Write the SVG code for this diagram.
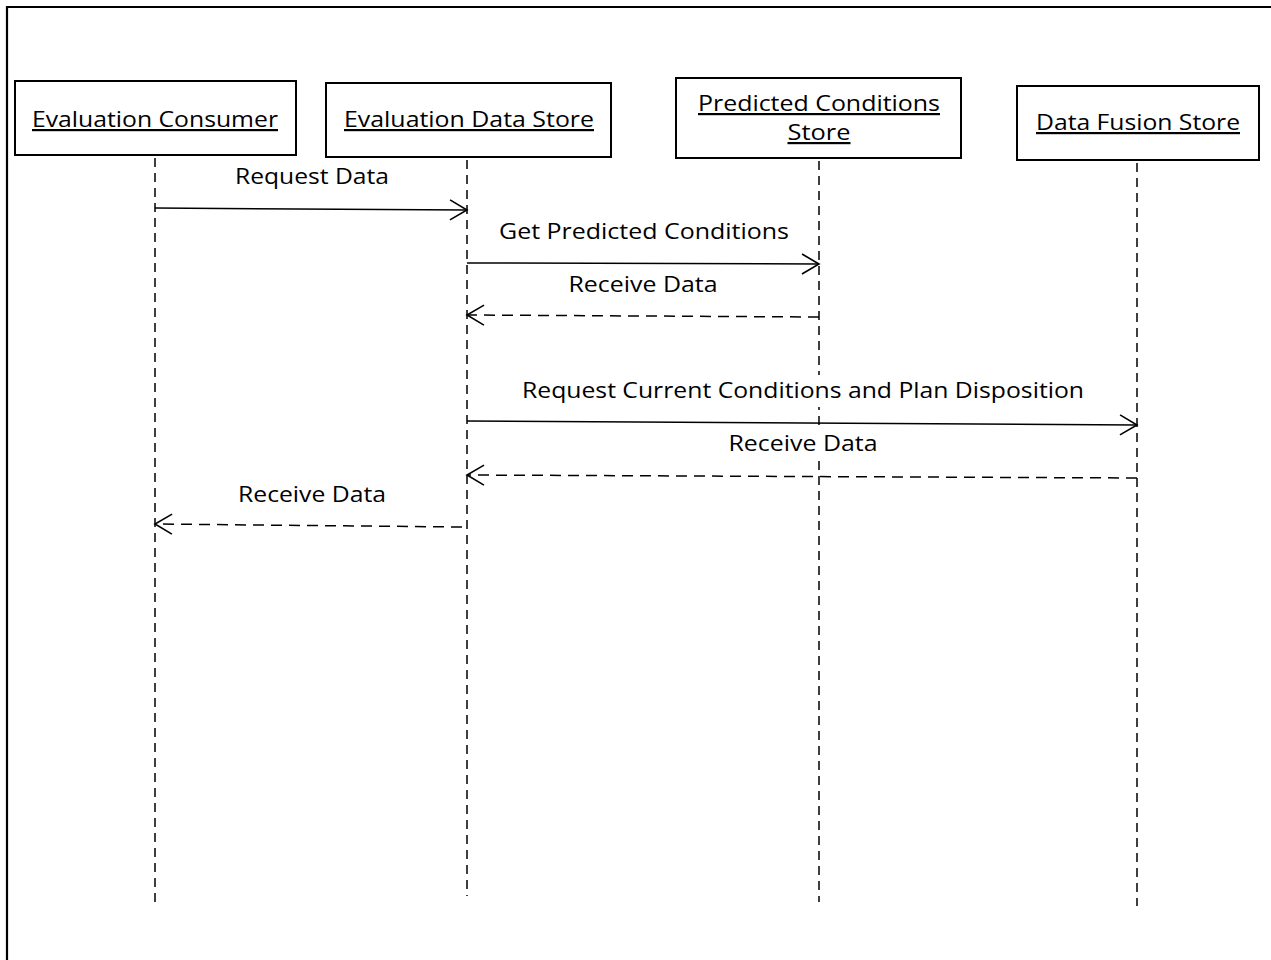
<svg xmlns="http://www.w3.org/2000/svg" width="1271" height="960" viewBox="0 0 1271 960">
  <style>
    .frame { fill: none; stroke: #000; stroke-width: 2.2; }
    .box { fill: #fff; stroke: #000; stroke-width: 2; }
    .life { fill: none; stroke: #000; stroke-width: 1.5; stroke-dasharray: 9 6; }
    .msg { fill: none; stroke: #000; stroke-width: 1.5; marker-end: url(#open); }
    .ret { stroke-dasharray: 11 7; }
    .bg { fill: #fff; stroke: none; }
    text { font-family: "Open Sans", "Liberation Sans", sans-serif; font-size: 22px; fill: #000; text-anchor: middle; }
    .title { text-decoration: underline; }
  </style>
  <defs>
    <marker id="open" markerUnits="userSpaceOnUse" markerWidth="30" markerHeight="30" viewBox="-20 -15 30 30" refX="0" refY="0" orient="auto" overflow="visible">
      <path d="M-17,-10 L0,0 L-17,10" fill="none" stroke="#000" stroke-width="1.6"/>
    </marker>
  </defs>

  <rect width="1271" height="960" fill="#fff"/>
  <!-- outer frame: top and left edges -->
  <path class="frame" d="M7,960 V7 H1271"/>

  <!-- lifelines -->
  <g id="lifelines">
    <line class="life" x1="155" y1="158" x2="155" y2="902"/>
    <line class="life" x1="467" y1="160" x2="467" y2="896"/>
    <line class="life" x1="819" y1="161" x2="819" y2="902"/>
    <line class="life" x1="1137" y1="163" x2="1137" y2="906"/>
  </g>

  <g id="evaluation-consumer">
    <rect class="box" x="15" y="81" width="281" height="74"/>
    <text class="title" x="155" y="127" textLength="246" lengthAdjust="spacingAndGlyphs">Evaluation Consumer</text>
  </g>
  <g id="evaluation-data-store">
    <rect class="box" x="326" y="83" width="285" height="74"/>
    <text class="title" x="469" y="127" textLength="250" lengthAdjust="spacingAndGlyphs">Evaluation Data Store</text>
  </g>
  <g id="predicted-conditions-store">
    <rect class="box" x="676" y="78" width="285" height="80"/>
    <text class="title" x="819" y="111" textLength="242" lengthAdjust="spacingAndGlyphs">Predicted Conditions</text>
    <text class="title" x="819" y="140" textLength="63" lengthAdjust="spacingAndGlyphs">Store</text>
  </g>
  <g id="data-fusion-store">
    <rect class="box" x="1017" y="86" width="242" height="74"/>
    <text class="title" x="1138" y="130" textLength="204" lengthAdjust="spacingAndGlyphs">Data Fusion Store</text>
  </g>

  <!-- messages -->
  <g id="connectors">
    <line class="msg" x1="155" y1="208" x2="467" y2="210"/>
    <line class="msg" x1="467" y1="263" x2="819" y2="264"/>
    <line class="msg ret" x1="819" y1="317" x2="467" y2="315"/>
    <line class="msg" x1="467" y1="421" x2="1137" y2="425"/>
    <line class="msg ret" x1="1137" y1="478" x2="467" y2="475"/>
    <line class="msg ret" x1="462" y1="527" x2="155" y2="524"/>
  </g>

  <!-- message labels sit on opaque backing so lifelines break behind them -->
  <g id="message-labels">
    <text x="312" y="184" textLength="154" lengthAdjust="spacingAndGlyphs">Request Data</text>
    <text x="644" y="239" textLength="290" lengthAdjust="spacingAndGlyphs">Get Predicted Conditions</text>
    <text x="643" y="292" textLength="149" lengthAdjust="spacingAndGlyphs">Receive Data</text>
    <rect class="bg" x="520" y="375" width="566" height="32"/>
    <text x="803" y="398" textLength="562" lengthAdjust="spacingAndGlyphs">Request Current Conditions and Plan Disposition</text>
    <rect class="bg" x="726" y="428" width="155" height="30"/>
    <text x="803" y="451" textLength="149" lengthAdjust="spacingAndGlyphs">Receive Data</text>
    <text x="312" y="502" textLength="148" lengthAdjust="spacingAndGlyphs">Receive Data</text>
  </g>
</svg>
